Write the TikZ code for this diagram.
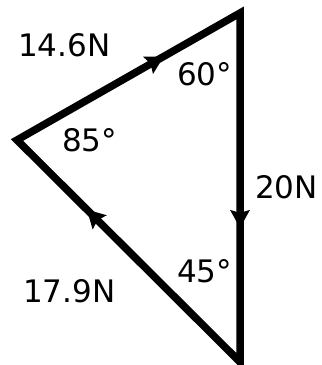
\documentclass[tikz,border=0pt]{standalone}
\usepackage{fontspec}
\setmainfont{DejaVu Sans}
\usetikzlibrary{decorations.markings}
\tikzset{
  edge/.style={line width=7.5pt, line join=miter},
  midarrow/.style={decoration={markings, mark=at position #1 with {\fill (2pt,0pt) -- (-16pt,10pt) -- (-13pt,0pt) -- (-16pt,-10pt) -- cycle;}}, postaction=decorate},
  lbl/.style={anchor=base west, inner sep=0pt, font=\fontsize{31}{31}\selectfont}
}
\begin{document}
\begin{tikzpicture}[x=1pt,y=-1pt]
\useasboundingbox (0,0) rectangle (322,365);
\coordinate (L) at (17,140);
\coordinate (T) at (240,13);
\coordinate (B) at (240,362);
\draw[edge] (L) -- (T) -- (B) -- cycle;
\path[midarrow=0.65] (L) -- (T);
\path[midarrow=0.61] (T) -- (B);
\path[midarrow=0.68] (B) -- (L);
\node[lbl] (f1) at (18,56) {14.6N};
\node[lbl] (a1) at (177,85) {60°};
\node[lbl] (a2) at (62,151) {85°};
\node[lbl] (f2) at (255,198) {20N};
\node[lbl] (a3) at (177,282) {45°};
\node[lbl] (f3) at (23,302) {17.9N};
\end{tikzpicture}
\end{document}
